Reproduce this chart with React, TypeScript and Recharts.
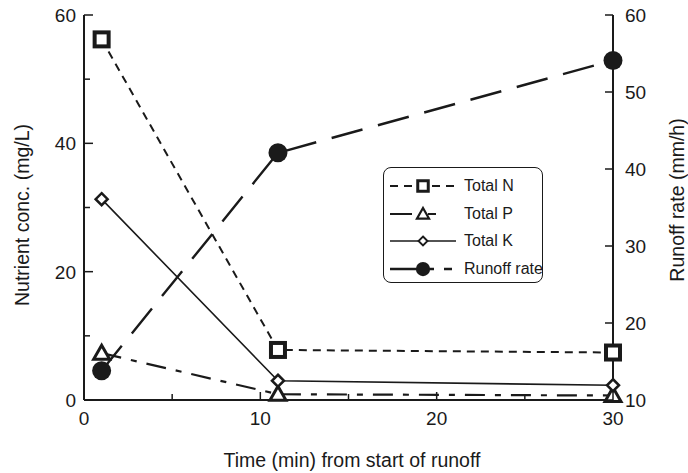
import React from "react"
import { ComposedChart, Line, XAxis, YAxis } from "recharts"

const times = [1, 11, 30]
const totalN = [56.2, 7.8, 7.4]
const totalP = [7.3, 0.9, 0.7]
const totalK = [31.3, 3.0, 2.3]
const runoffRate = [13.8, 42.1, 54.1]

const xTicks = [0, 5, 10, 15, 20, 25, 30]
const leftTicks = [0, 10, 20, 30, 40, 50, 60]
const rightTicks = [10, 20, 30, 40, 50, 60]

const data = times.map((t, i) => ({
  time: t,
  n: totalN[i],
  p: totalP[i],
  k: totalK[i],
  runoff: runoffRate[i],
}))

const FONT = "'Liberation Sans', Arial, Helvetica, sans-serif"
const INK = "#1a1a1a"

type Shape = "square" | "triangle" | "diamond" | "circle"

function Marker({ cx, cy, shape, s = 1 }: { cx: number; cy: number; shape: Shape; s?: number }) {
  if (shape === "square")
    return (
      <rect x={cx - 7 * s} y={cy - 7 * s} width={14 * s} height={14 * s} fill="#fff" stroke={INK} strokeWidth={4 * s} />
    )
  if (shape === "triangle")
    return (
      <polygon
        points={`${cx},${cy - 8 * s} ${cx + 8 * s},${cy + 6 * s} ${cx - 8 * s},${cy + 6 * s}`}
        fill="#fff"
        stroke={INK}
        strokeWidth={3 * s}
      />
    )
  if (shape === "diamond")
    return (
      <polygon
        points={`${cx},${cy - 6 * s} ${cx + 6 * s},${cy} ${cx},${cy + 6 * s} ${cx - 6 * s},${cy}`}
        fill="#fff"
        stroke={INK}
        strokeWidth={2.5 * s}
      />
    )
  return <circle cx={cx} cy={cy} r={9.5 * s} fill={INK} />
}

const series = [
  { key: "n", name: "Total N", shape: "square" as Shape, dash: "8 6", width: 2, axis: "left", legendDash: "8 6" },
  { key: "p", name: "Total P", shape: "triangle" as Shape, dash: "20 10 6 10", width: 2.2, axis: "left", legendDash: "22 16 8 20" },
  { key: "k", name: "Total K", shape: "diamond" as Shape, dash: undefined, width: 1.6, axis: "left", legendDash: undefined },
  { key: "runoff", name: "Runoff rate", shape: "circle" as Shape, dash: "32 16", width: 2.4, axis: "right", legendDash: "44 10 8 20" },
]

const tickText = { fontFamily: FONT, fontSize: 19, fill: INK }

function XTick(props: any) {
  const { x, y, payload } = props
  const major = payload.value % 10 === 0
  return (
    <g>
      <line x1={x} x2={x} y1={y} y2={y - (major ? 8 : 6)} stroke={INK} strokeWidth={1.5} />
      {major && (
        <text x={x} y={y + 25} textAnchor="middle" {...tickText}>
          {payload.value}
        </text>
      )}
    </g>
  )
}

function LeftTick(props: any) {
  const { x, y, payload } = props
  const major = payload.value % 20 === 0
  return (
    <g>
      <line x1={x} x2={x + (major ? 9 : 6)} y1={y} y2={y} stroke={INK} strokeWidth={1.5} />
      {major && (
        <text x={x - 8} y={y + 7} textAnchor="end" {...tickText}>
          {payload.value}
        </text>
      )}
    </g>
  )
}

function RightTick(props: any) {
  const { x, y, payload } = props
  return (
    <g>
      <line x1={x} x2={x - 8} y1={y} y2={y} stroke={INK} strokeWidth={1.5} />
      <text x={x + 12} y={y + 7} textAnchor="start" {...tickText}>
        {payload.value}
      </text>
    </g>
  )
}

function ChartLegend() {
  return (
    <div
      style={{
        position: "absolute",
        left: 383,
        top: 167,
        width: 158,
        height: 114,
        border: `1.5px solid ${INK}`,
        borderRadius: 8,
        background: "#fff",
        fontFamily: FONT,
        fontSize: 16,
        color: INK,
      }}
    >
      {series.map((s, i) => (
        <div
          key={s.key}
          style={{
            position: "absolute",
            left: 0,
            top: 6 + i * 27.5,
            height: 24,
            display: "flex",
            alignItems: "center",
            whiteSpace: "nowrap",
          }}
        >
          <svg width={78} height={24} style={{ display: "block", flex: "none" }}>
            <line x1={6} x2={72} y1={12} y2={12} stroke={INK} strokeWidth={s.width} strokeDasharray={s.legendDash} />
            <Marker cx={39} cy={12} shape={s.shape} s={0.75} />
          </svg>
          <span style={{ marginLeft: 2 }}>{s.name}</span>
        </div>
      ))}
    </div>
  )
}

const titleStyle = {
  position: "absolute" as const,
  whiteSpace: "nowrap" as const,
  fontFamily: FONT,
  fontSize: 19.5,
  color: INK,
}

export default function App() {
  return (
    <div style={{ position: "absolute", left: 0, top: 0, width: 688, height: 473, background: "#fff" }}>
      <ComposedChart width={688} height={473} data={data} margin={{ top: 15, right: 0, left: 0, bottom: 0 }}>
        <XAxis
          dataKey="time"
          type="number"
          domain={[0, 30]}
          ticks={xTicks}
          tickSize={0}
          tickMargin={0}
          tick={XTick}
          tickLine={false}
          axisLine={{ stroke: INK, strokeWidth: 2 }}
          height={73}
          interval={0}
        />
        <YAxis
          yAxisId="left"
          domain={[0, 60]}
          ticks={leftTicks}
          tickSize={0}
          tickMargin={0}
          tick={LeftTick}
          tickLine={false}
          axisLine={{ stroke: INK, strokeWidth: 2 }}
          width={84}
          interval={0}
        />
        <YAxis
          yAxisId="right"
          orientation="right"
          domain={[10, 60]}
          ticks={rightTicks}
          tickSize={0}
          tickMargin={0}
          tick={RightTick}
          tickLine={false}
          axisLine={{ stroke: INK, strokeWidth: 2 }}
          width={75}
          interval={0}
        />
        {series.map((s) => (
          <Line
            key={s.key}
            yAxisId={s.axis}
            dataKey={s.key}
            type="linear"
            stroke={INK}
            strokeWidth={s.width}
            strokeDasharray={s.dash}
            isAnimationActive={false}
            dot={(p: any) => <Marker key={`${s.key}-${p.index}`} cx={p.cx} cy={p.cy} shape={s.shape} />}
            activeDot={false}
          />
        ))}
      </ComposedChart>
      <div style={{ ...titleStyle, left: 22, top: 215, transform: "translate(-50%, -50%) rotate(-90deg)" }}>
        Nutrient conc. (mg/L)
      </div>
      <div style={{ ...titleStyle, left: 677, top: 200, transform: "translate(-50%, -50%) rotate(-90deg)" }}>
        Runoff rate (mm/h)
      </div>
      <div style={{ ...titleStyle, left: 352, top: 460, transform: "translate(-50%, -50%)" }}>
        Time (min) from start of runoff
      </div>
      <ChartLegend />
    </div>
  )
}
